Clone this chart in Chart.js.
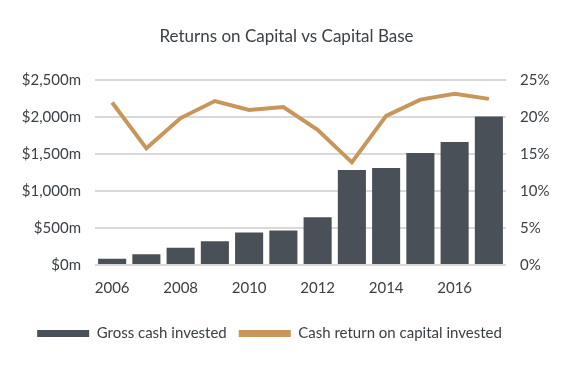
<!DOCTYPE html>
<html>
<head>
<meta charset="utf-8">
<script src="https://cdn.jsdelivr.net/npm/chart.js@4"></script>
<style>
  html, body { margin: 0; padding: 0; background: #fff; }
  #wrap { width: 566px; height: 366px; }
</style>
</head>
<body>
<div id="wrap"><canvas id="returnsChart"></canvas></div>
<script>
const years = ['2006', '2007', '2008', '2009', '2010', '2011', '2012', '2013', '2014', '2015', '2016', '2017']
const grossCash = [86, 145, 235, 322, 440, 467, 648, 1286, 1314, 1518, 1667, 2011]
const cashReturn = [22.0, 15.8, 19.9, 22.2, 21.0, 21.4, 18.3, 13.9, 20.2, 22.4, 23.2, 22.5]

const textColor = '#3b4046'
const barColor = '#4a5058'
const lineColor = '#c8955a'

Chart.defaults.font.family = 'Lato, "Open Sans", sans-serif'
Chart.defaults.color = textColor

// legend sits a little left of centre in the original
const shiftLegend = {
  id: 'shiftLegend',
  afterUpdate (chart) { chart.legend._shifted = false },
  beforeDraw (chart) {
    const lg = chart.legend
    if (lg._shifted) return
    lg.left -= 17
    lg.right -= 17
    lg._shifted = true
  }
}

const ctx = document.getElementById('returnsChart')
new Chart(ctx, {
  data: {
    labels: years,
    datasets: [{
      type: 'line',
      label: 'Cash return on capital invested',
      data: cashReturn,
      yAxisID: 'pct',
      borderColor: lineColor,
      backgroundColor: lineColor,
      borderWidth: 4,
      pointRadius: 0,
      tension: 0,
      order: 0
    }, {
      type: 'bar',
      label: 'Gross cash invested',
      data: grossCash,
      yAxisID: 'usd',
      backgroundColor: barColor,
      categoryPercentage: 0.82,
      barPercentage: 1,
      order: 1
    }]
  },
  plugins: [shiftLegend],
  options: {
    responsive: true,
    maintainAspectRatio: false,
    animation: false,
    layout: { padding: { left: 19, right: 12, top: 10, bottom: 15 } },
    plugins: {
      title: {
        display: true,
        text: 'Returns on Capital vs Capital Base',
        font: { size: 17, weight: 'normal' },
        color: textColor,
        padding: { top: 16, bottom: 34 }
      },
      legend: {
        position: 'bottom',
        reverse: true,
        labels: {
          boxWidth: 52,
          boxHeight: 7,
          font: { size: 15 },
          padding: 12,
          generateLabels (chart) {
            const items = Chart.defaults.plugins.legend.labels.generateLabels(chart)
            items.forEach(it => { it.lineWidth = 0 })
            return items
          }
        }
      },
      tooltip: { enabled: false }
    },
    scales: {
      x: {
        grid: { display: false },
        border: { display: false },
        afterFit (scale) { scale.height += 11 },
        ticks: {
          font: { size: 15 },
          padding: 6,
          maxRotation: 0,
          autoSkip: false,
          callback (v, i) { return i % 2 === 0 ? years[i] : '' }
        }
      },
      usd: {
        position: 'left',
        min: 0,
        max: 2500,
        border: { display: false },
        grid: { color: '#d9d9d9', lineWidth: 2, drawTicks: false },
        afterFit (scale) { scale.width = 76 },
        ticks: {
          stepSize: 500,
          padding: 14,
          font: { size: 15 },
          callback: v => '$' + v.toLocaleString('en-US') + 'm'
        }
      },
      pct: {
        position: 'right',
        min: 0,
        max: 25,
        border: { display: false },
        grid: { display: false },
        afterFit (scale) { scale.width = 48 },
        ticks: {
          stepSize: 5,
          padding: 6,
          font: { size: 15 },
          callback: v => v + '%'
        }
      }
    }
  }
})
</script>
</body>
</html>
